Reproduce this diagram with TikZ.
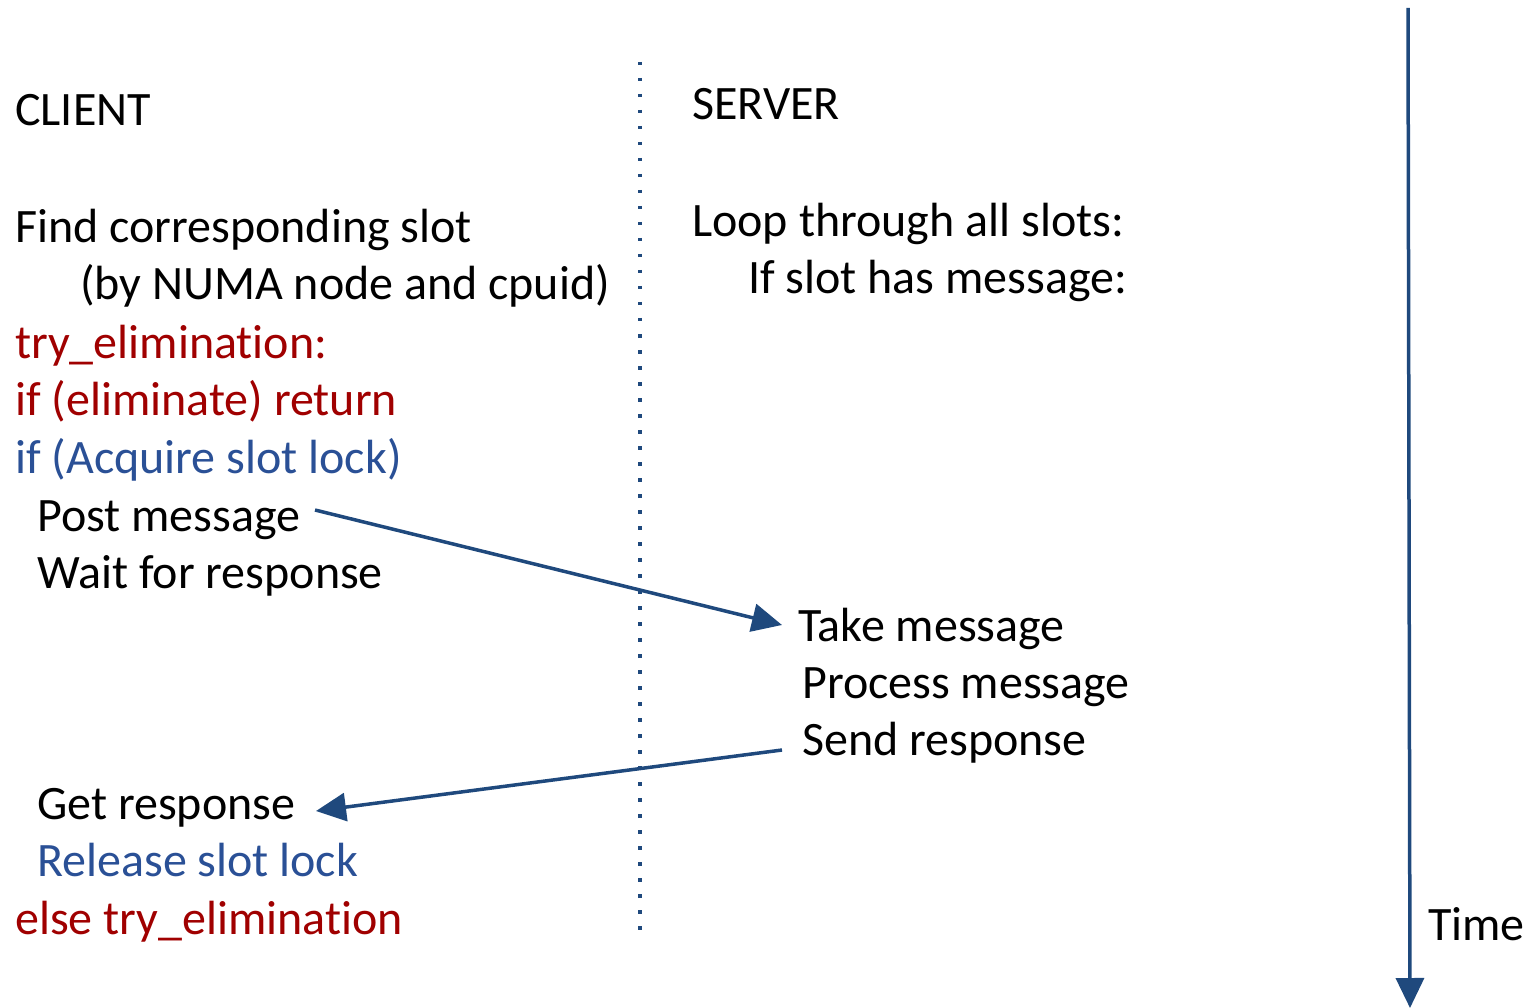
\documentclass[tikz,border=0pt]{standalone}
\usepackage{fontspec}
\setmainfont[Ligatures=NoCommon]{Carlito}
\usetikzlibrary{arrows.meta}
\definecolor{codered}{HTML}{A00000}
\definecolor{lockblue}{HTML}{2A5096}
\definecolor{arrowblue}{HTML}{1F497D}
\begin{document}
\begin{tikzpicture}[x=1pt,y=-1pt,
  txt/.style={anchor=base west,inner sep=0pt,font=\fontsize{48}{57.5}\selectfont},
  red/.style={txt,text=codered},
  blu/.style={txt,text=lockblue},
  msg/.style={draw=arrowblue,line width=3.5pt,-{Triangle[length=30pt,width=28pt]}}]
\useasboundingbox (0,0) rectangle (1534,1008);
% client column
\node[txt] (client) at (15,126) {CLIENT};
\node[txt] (find) at (15,243) {Find corresponding slot};
\node[txt] (numa) at (80,300) {(by NUMA node and cpuid)};
\node[red] (try) at (15,358) {try\_elimination:};
\node[red] (elim) at (15,415) {if (eliminate) return};
\node[blu] (acq) at (15,473) {if (Acquire slot lock)};
\node[txt] (post) at (37,531) {Post message};
\node[txt] (wait) at (37,588) {Wait for response};
\node[txt] (get) at (37,819) {Get response};
\node[blu] (rel) at (37,876) {Release slot lock};
\node[red] (else) at (15,934) {else try\_elimination};
% server column
\node[txt] (server) at (692,120) {SERVER};
\node[txt] (loop) at (692,237) {Loop through all slots:};
\node[txt] (has) at (748,294) {If slot has message:};
\node[txt] (take) at (798,641) {Take message};
\node[txt] (proc) at (802,698) {Process message};
\node[txt] (send) at (802,755) {Send response};
% time axis
\node[txt] (time) at (1428,940) {Time};
\coordinate (ttop) at (1408,8);
\coordinate (tbot) at (1410,1008);
\draw[msg] (ttop) -- (tbot);
% separator between client and server
\coordinate (sepa) at (640,62);
\coordinate (sepb) at (640,930);
\draw[arrowblue,line width=3.5pt,dash pattern=on 3.5pt off 12.5pt] (sepa) -- (sepb);
% messages
\coordinate (postend) at (315,510);
\coordinate (taketip) at (782,625);
\coordinate (sendend) at (782,750);
\coordinate (gettip) at (316,811);
\draw[msg] (postend) -- (taketip);
\draw[msg] (sendend) -- (gettip);
\end{tikzpicture}
\end{document}
